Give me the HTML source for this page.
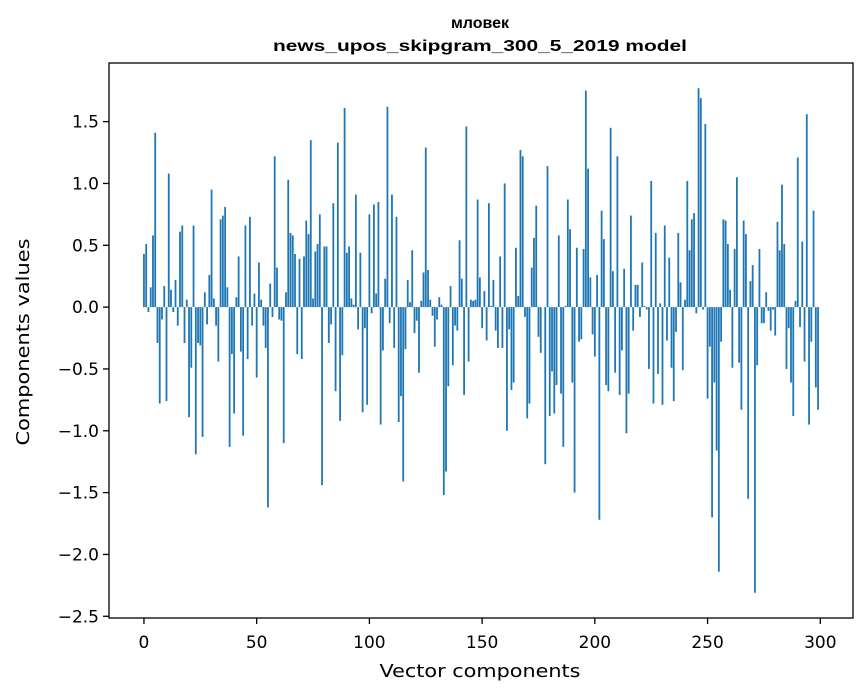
<!DOCTYPE html>
<html><head><meta charset="utf-8"><style>
html,body{margin:0;padding:0;background:#fff}
svg{display:block;font-family:"DejaVu Sans","Liberation Sans",sans-serif}
.ttl{font-family:"Liberation Sans","DejaVu Sans",sans-serif}
</style></head><body>
<svg id="chart" width="867" height="696">
<rect width="867" height="696" fill="#fff"/>
<text class="ttl" x="480" y="28" text-anchor="middle" font-size="16" font-weight="bold">мловек</text>
<text class="ttl" x="480" y="51" text-anchor="middle" font-size="16" font-weight="bold" textLength="414" lengthAdjust="spacingAndGlyphs">news_upos_skipgram_300_5_2019 model</text>
<g id="bars"></g>
<g id="axes"></g>
<text x="480" y="677" text-anchor="middle" font-size="18" textLength="201" lengthAdjust="spacingAndGlyphs">Vector components</text>
<text transform="translate(29,342) rotate(-90)" text-anchor="middle" font-size="18" textLength="207" lengthAdjust="spacingAndGlyphs">Components values</text>
</svg>
<script>
const values = [0.43,0.51,-0.04,0.16,0.58,1.41,-0.29,-0.78,-0.10,0.17,
-0.76,1.08,0.14,-0.04,0.22,-0.15,0.61,0.66,-0.29,0.06,
-0.89,-0.49,0.66,-1.19,-0.29,-0.31,-1.05,0.12,-0.14,0.26,
0.95,0.07,-0.15,-0.44,0.71,0.74,0.81,0.16,-1.13,-0.38,
-0.86,0.08,0.41,-0.36,-1.04,0.66,-0.42,0.73,-0.15,0.11,
-0.57,0.36,0.06,-0.15,-0.33,-1.62,0.19,-0.08,1.22,0.32,
-0.10,-0.11,-1.10,0.12,1.03,0.60,0.58,0.43,-0.38,0.39,
-0.42,0.41,0.70,0.59,1.35,0.07,0.45,0.51,0.75,-1.44,
0.49,0.49,-0.29,-0.14,0.84,-0.68,1.33,-0.92,-0.39,1.61,
0.44,0.49,0.07,0.02,0.91,-0.18,0.44,-0.85,-0.17,-0.79,
0.75,-0.05,0.83,0.11,0.85,-0.95,-0.35,0.23,1.62,-0.13,
0.91,-0.33,0.73,-0.93,-0.72,-1.41,-0.34,0.22,0.04,0.46,
-0.21,-0.11,-0.53,0.05,0.28,1.29,0.30,0.06,-0.07,-0.32,
-0.10,0.08,0.02,-1.52,-1.33,-0.64,0.17,-0.47,-0.15,-0.19,
0.54,0.23,-0.71,1.46,-0.44,0.06,0.05,0.06,0.87,0.24,
-0.17,0.13,-0.27,0.84,0.01,0.22,-0.19,-0.33,0.41,-0.33,
1.00,-1.00,-0.18,-0.67,-0.61,0.48,0.09,1.27,1.22,-0.08,
-0.90,-0.78,0.32,0.56,0.82,-0.24,-0.37,0.00,-1.27,1.14,
-0.88,-0.52,-0.86,-0.63,0.58,-0.70,-1.13,0.01,0.87,0.63,
-0.61,-1.50,0.48,-0.28,-0.26,0.47,1.75,1.12,0.24,-0.22,
-0.40,0.26,-1.72,0.78,0.55,-0.63,-0.68,1.45,0.29,-0.53,
1.22,-0.71,-0.35,0.31,-1.02,-0.70,0.74,-0.19,0.18,0.18,
-0.08,0.36,0.01,-0.02,-0.50,1.02,-0.78,0.60,-0.54,0.03,
-0.79,0.66,-0.27,0.40,-0.49,-0.76,-0.20,0.60,0.20,-0.51,
0.06,1.02,0.46,0.71,0.76,-0.05,1.77,1.69,-0.02,1.48,
-0.74,-0.32,-1.70,-0.61,-1.16,-2.14,-0.28,0.71,0.70,0.51,
0.14,-0.49,0.47,1.05,-0.45,-0.83,0.70,0.59,-1.55,0.21,
0.34,-2.31,-0.47,0.47,-0.13,-0.13,0.12,-0.03,-0.19,-0.02,
-0.23,0.69,0.46,0.99,0.51,-0.50,-0.17,-0.61,-0.88,0.05,
1.21,-0.16,0.53,-0.44,1.56,-0.95,-0.28,0.78,-0.65,-0.83];
const xTicks = [0,50,100,150,200,250,300];
const yTicks = [-2.5,-2.0,-1.5,-1.0,-0.5,0.0,0.5,1.0,1.5];
const yTickLabels = ["\u22122.5","\u22122.0","\u22121.5","\u22121.0","\u22120.5","0.0","0.5","1.0","1.5"];

const L=109,R=853,T=63,B=618;
const xmin=-15.5,xmax=314.5;
const vmin=Math.min(...values),vmax=Math.max(...values);
const span=vmax-vmin;
const ymin=vmin-0.05*span,ymax=vmax+0.05*span;
const xs=v=>L+(v-xmin)/(xmax-xmin)*(R-L);
const ys=v=>B-(v-ymin)/(ymax-ymin)*(B-T);
const NS="http://www.w3.org/2000/svg";
const bars=document.getElementById('bars');
values.forEach((v,i)=>{
  const r=document.createElementNS(NS,'rect');
  const x0=xs(i-0.4),x1=xs(i+0.4);
  const y0=ys(Math.max(v,0)),y1=ys(Math.min(v,0));
  r.setAttribute('x',x0);r.setAttribute('width',x1-x0);
  r.setAttribute('y',y0);r.setAttribute('height',Math.max(y1-y0,0.01));
  r.setAttribute('fill','#1f77b4');
  
  
  bars.appendChild(r);
});
const ax=document.getElementById('axes');
const frame=document.createElementNS(NS,'rect');
frame.setAttribute('x',L);frame.setAttribute('y',T);frame.setAttribute('width',R-L);frame.setAttribute('height',B-T);
frame.setAttribute('fill','none');frame.setAttribute('stroke','#000');frame.setAttribute('stroke-width','1.3');


ax.appendChild(frame);
xTicks.forEach(t=>{
  const x=xs(t);
  const l=document.createElementNS(NS,'line');
  l.setAttribute('x1',x);l.setAttribute('x2',x);l.setAttribute('y1',B);l.setAttribute('y2',B+6);l.setAttribute('stroke','#000');l.setAttribute('stroke-width','1.3');
  
  
  ax.appendChild(l);
  const tx=document.createElementNS(NS,'text');
  tx.setAttribute('x',x);tx.setAttribute('y',B+30);tx.setAttribute('text-anchor','middle');tx.setAttribute('font-size','17');
  tx.textContent=t;
  
  
  ax.appendChild(tx);
});
yTicks.forEach((t,i)=>{
  const y=ys(t);
  const l=document.createElementNS(NS,'line');
  l.setAttribute('x1',L-6);l.setAttribute('x2',L);l.setAttribute('y1',y);l.setAttribute('y2',y);l.setAttribute('stroke','#000');l.setAttribute('stroke-width','1.3');
  
  
  ax.appendChild(l);
  const tx=document.createElementNS(NS,'text');
  tx.setAttribute('x',L-10);tx.setAttribute('y',y+6);tx.setAttribute('text-anchor','end');tx.setAttribute('font-size','17');
  tx.textContent=yTickLabels[i];
  
  
  ax.appendChild(tx);
});
</script>
</body></html>
